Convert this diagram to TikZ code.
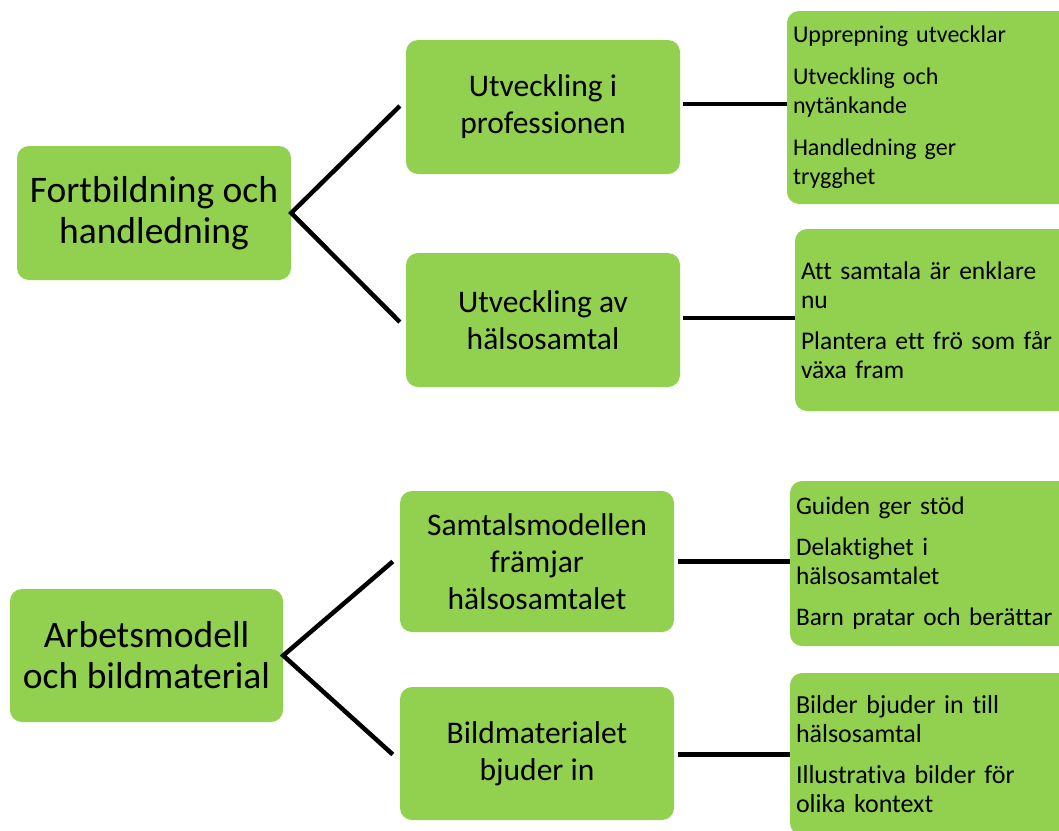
\documentclass[tikz,border=0pt]{standalone}
\usepackage{fontspec}
\setmainfont{Carlito}[Ligatures={NoCommon}]
\definecolor{boxgreen}{HTML}{92D050}
\begin{document}
\begin{tikzpicture}[x=1pt,y=-1pt,
  box/.style={rectangle, rounded corners=12pt, fill=boxgreen, inner sep=0pt, align=center},
  rootbox/.style={box, minimum width=274pt, minimum height=134pt, font=\fontsize{37.5}{41}\selectfont},
  midbox/.style={box, minimum width=274pt, minimum height=134pt, font=\fontsize{31.5}{37}\selectfont},
  leafbox/.style={box, minimum width=300pt, inner xsep=6pt, text width=288pt, align=left, font=\fontsize{26}{29}\selectfont},
  link/.style={line width=4.5pt, black}]
\useasboundingbox (0,0) rectangle (1059,830);
\clip (0,0) rectangle (1059,830);

\node[rootbox] (r1) at (154,213) {Fortbildning och\\handledning};
\node[midbox] (m1) at (543,107) {Utveckling i\\professionen};
\node[midbox] (m2) at (543,320) {Utveckling av\\hälsosamtal};
\node[leafbox, minimum height=193pt, font=\fontsize{24}{29}\selectfont] (l1) at (937,107.5) {Upprepning utvecklar\\[13pt]Utveckling och\\nytänkande\\[13pt]Handledning ger\\trygghet};
\node[leafbox, minimum height=182pt, font=\fontsize{25.5}{29}\selectfont] (l2) at (945,320) {Att samtala är enklare\\nu\\[12pt]Plantera ett frö som får\\växa fram};

\node[rootbox, minimum width=273pt, minimum height=133pt] (r2) at (146.5,655.5) {Arbetsmodell\\och bildmaterial};
\node[midbox, minimum height=141pt] (m3) at (537,561.5) {Samtalsmodellen\\främjar\\hälsosamtalet};
\node[midbox, minimum height=133pt] (m4) at (537,753.5) {Bildmaterialet\\bjuder in};
\node[leafbox, minimum height=165pt, font=\fontsize{25.3}{29}\selectfont] (l3) at (940,563.5) {Guiden ger stöd\\[12pt]Delaktighet i\\hälsosamtalet\\[12pt]Barn pratar och berättar};
\node[leafbox, minimum height=162pt] (l4) at (940,754) {Bilder bjuder in till\\hälsosamtal\\[12pt]Illustrativa bilder för\\olika kontext};

\draw[link, line join=miter] ([xshift=-6pt,yshift=1pt]m1.west) -- (r1.east) -- ([xshift=-6pt,yshift=-2pt]m2.west);
\draw[link] ([xshift=3pt,yshift=3pt]m1.east) -- ([yshift=3pt]m1.east -| l1.west);
\draw[link] ([xshift=3pt,yshift=2pt]m2.east) -- ([yshift=2pt]m2.east -| l2.west);
\draw[link, line join=miter] ([xshift=-7pt]m3.west) -- (r2.east) -- ([xshift=-7pt,yshift=-1pt]m4.west);
\draw[link] ([xshift=4pt]m3.east) -- (m3.east -| l3.west);
\draw[link] ([xshift=4pt,yshift=-1pt]m4.east) -- ([yshift=-1pt]m4.east -| l4.west);
\end{tikzpicture}
\end{document}
